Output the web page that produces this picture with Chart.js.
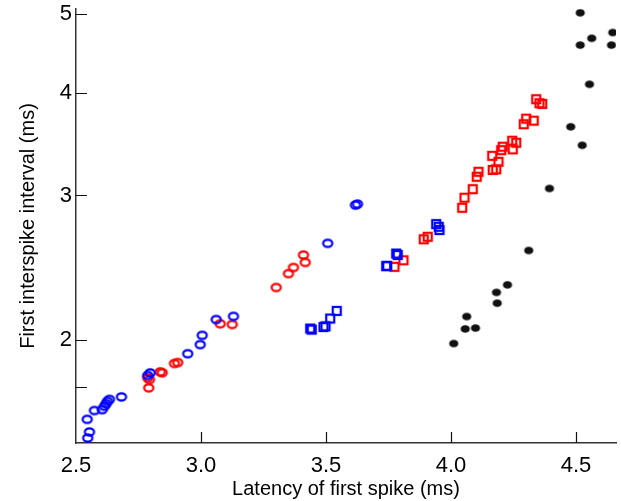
<!DOCTYPE html>
<html>
<head>
<meta charset="utf-8">
<script src="https://cdn.jsdelivr.net/npm/chart.js@4"></script>
<style>
  html, body { margin: 0; padding: 0; background: #fff; }
  #wrap { width: 621px; height: 501px; }
</style>
</head>
<body>
<div id="wrap"><canvas id="scatter"></canvas></div>
<script>
// Data: latency (ms) vs first interspike interval (ms)
const blueCircleX = [2.547, 2.554, 2.545, 2.574, 2.605, 2.614, 2.621, 2.626, 2.634, 2.682, 2.787, 2.797, 2.947, 2.997, 3.005, 3.061, 3.130, 3.507, 3.618, 3.626];
const blueCircleY = [1.516, 1.542, 1.598, 1.638, 1.642, 1.658, 1.670, 1.681, 1.690, 1.702, 1.808, 1.821, 1.922, 1.972, 2.024, 2.116, 2.135, 2.622, 2.920, 2.928];

const redCircleX = [2.787, 2.794, 2.791, 2.837, 2.845, 2.894, 2.907, 3.077, 3.125, 3.301, 3.350, 3.370, 3.410, 3.417];
const redCircleY = [1.796, 1.787, 1.746, 1.826, 1.822, 1.870, 1.875, 2.091, 2.087, 2.316, 2.408, 2.450, 2.537, 2.485];

const blueSquareX = [3.437, 3.443, 3.490, 3.498, 3.517, 3.543, 3.741, 3.745, 3.781, 3.787, 3.941, 3.951, 3.954];
const blueSquareY = [2.063, 2.057, 2.072, 2.076, 2.122, 2.168, 2.459, 2.461, 2.548, 2.537, 2.768, 2.747, 2.722];

const redSquareX = [3.774, 3.810, 3.891, 3.907, 4.045, 4.054, 4.087, 4.103, 4.110, 4.167, 4.181, 4.165, 4.190, 4.201, 4.207, 4.247, 4.245, 4.261, 4.291, 4.301, 4.331, 4.341, 4.354, 4.365];
const redSquareY = [2.454, 2.500, 2.652, 2.671, 2.898, 2.981, 3.054, 3.162, 3.207, 3.223, 3.229, 3.354, 3.298, 3.408, 3.441, 3.416, 3.500, 3.480, 3.666, 3.724, 3.703, 3.933, 3.889, 3.882];

const blackDotX = [4.011, 4.057, 4.098, 4.063, 4.185, 4.182, 4.226, 4.311, 4.394, 4.479, 4.525, 4.554, 4.517, 4.563, 4.517, 4.647, 4.642];
const blackDotY = [1.978, 2.061, 2.066, 2.134, 2.216, 2.284, 2.333, 2.570, 3.060, 3.640, 3.455, 4.102, 4.580, 4.669, 5.016, 4.745, 4.580];

const xTicks = [2.5, 3.0, 3.5, 4.0, 4.5];
const yTicks = [2, 3, 4, 5];
const yMinorTicks = [1.75];

function pairs(xs, ys) {
    return xs.map((x, i) => ({ x: x, y: ys[i] }));
}

// small canvases used as marker shapes
function ringMarker(color) {
    const c = document.createElement('canvas');
    c.width = 14; c.height = 12;
    const g = c.getContext('2d');
    g.strokeStyle = color;
    g.lineWidth = 2.2;
    g.beginPath();
    g.ellipse(7, 6, 4.6, 3.6, 0, 0, Math.PI * 2);
    g.stroke();
    return c;
}

function squareMarker(color) {
    const c = document.createElement('canvas');
    c.width = 12; c.height = 12;
    const g = c.getContext('2d');
    g.strokeStyle = color;
    g.lineWidth = 2.2;
    g.strokeRect(2, 2, 8, 8);
    return c;
}

function dotMarker(color) {
    const c = document.createElement('canvas');
    c.width = 12; c.height = 10;
    const g = c.getContext('2d');
    g.fillStyle = color;
    g.beginPath();
    g.ellipse(6, 5, 4.6, 3.8, 0, 0, Math.PI * 2);
    g.fill();
    return c;
}

// tick marks pointing into the plot
const innerTicks = {
    id: 'innerTicks',
    afterDraw(chart) {
        const ctx = chart.ctx;
        const xs = chart.scales.x;
        const ys = chart.scales.y;
        ctx.save();
        ctx.strokeStyle = '#111';
        ctx.lineWidth = 1.2;
        ctx.beginPath();
        xs.ticks.forEach(t => {
            const px = Math.round(xs.getPixelForValue(t.value)) + 0.5;
            if (px <= xs.left + 2) return;
            ctx.moveTo(px, ys.bottom);
            ctx.lineTo(px, ys.bottom - 11);
        });
        ys.ticks.forEach(t => {
            const py = Math.round(ys.getPixelForValue(t.value)) + 0.5;
            ctx.moveTo(xs.left, py);
            ctx.lineTo(xs.left + 11, py);
        });
        ctx.stroke();
        ctx.restore();
    }
};

const fontFam = '"Liberation Sans", Arial, Helvetica, sans-serif';

new Chart(document.getElementById('scatter'), {
    type: 'scatter',
    data: {
        datasets: [
            { label: 'blue circles', data: pairs(blueCircleX, blueCircleY), pointStyle: ringMarker('#0000ff') },
            { label: 'red circles', data: pairs(redCircleX, redCircleY), pointStyle: ringMarker('#ff0000') },
            { label: 'blue squares', data: pairs(blueSquareX, blueSquareY), pointStyle: squareMarker('#0000ff') },
            { label: 'red squares', data: pairs(redSquareX, redSquareY), pointStyle: squareMarker('#ff0000') },
            { label: 'black dots', data: pairs(blackDotX, blackDotY), pointStyle: dotMarker('#111111') }
        ]
    },
    options: {
        responsive: true,
        maintainAspectRatio: false,
        animation: false,
        layout: { padding: { top: 9, right: 3, left: 0, bottom: 0 } },
        plugins: { legend: { display: false }, tooltip: { enabled: false } },
        scales: {
            x: {
                type: 'linear',
                min: 2.5,
                max: 4.66,
                grid: { display: false, drawTicks: false },
                border: { display: true, color: '#333', width: 1.5 },
                afterBuildTicks: s => { s.ticks = xTicks.map(v => ({ value: v })); },
                afterFit: s => { s.height = 58; s.paddingLeft = 0; s.paddingRight = 0; },
                ticks: {
                    color: '#000',
                    padding: 10,
                    maxRotation: 0,
                    font: { family: fontFam, size: 22 },
                    callback: v => Number(v).toFixed(1)
                },
                title: {
                    display: true,
                    text: 'Latency of first spike (ms)',
                    color: '#000',
                    font: { family: fontFam, size: 20 },
                    padding: { top: 0, bottom: 0 }
                }
            },
            y: {
                type: 'logarithmic',
                min: 1.495,
                max: 5.07,
                grid: { display: false, drawTicks: false },
                border: { display: true, color: '#333', width: 1.5 },
                afterBuildTicks: s => {
                    s.ticks = yMinorTicks.concat(yTicks).map(v => ({ value: v }));
                },
                afterFit: s => { s.width = 76; s.paddingTop = 0; s.paddingBottom = 0; },
                ticks: {
                    color: '#000',
                    padding: 4,
                    font: { family: fontFam, size: 22 },
                    callback: v => yTicks.includes(v) ? String(v) : ''
                },
                title: {
                    display: true,
                    text: 'First interspike interval (ms)',
                    color: '#000',
                    font: { family: fontFam, size: 20 },
                    padding: { top: 16, bottom: 0 }
                }
            }
        }
    },
    plugins: [innerTicks]
});
</script>
</body>
</html>
